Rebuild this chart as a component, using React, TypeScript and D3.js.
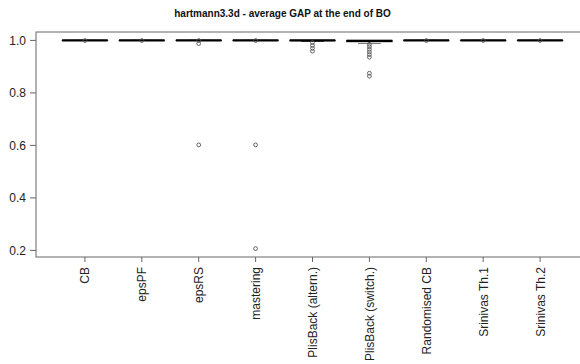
import React from 'react';
import * as d3 from 'd3';

const categories = ['CB', 'epsPF', 'epsRS', 'mastering', 'PlisBack (altern.)', 'PlisBack (switch.)', 'Randomised CB', 'Srinivas Th.1', 'Srinivas Th.2'];
const q1 = [1, 1, 1, 1, 0.999, 0.995, 1, 1, 1];
const medians = [1, 1, 1, 1, 1, 0.998, 1, 1, 1];
const q3 = [1, 1, 1, 1, 1, 1, 1, 1, 1];
const whiskLow = [1, 1, 1, 1, 0.997, 0.988, 1, 1, 1];
const whiskHigh = [1, 1, 1, 1, 1, 1, 1, 1, 1];
const outliers = [
  [0.9995],
  [0.9995],
  [0.9995, 0.988, 0.602],
  [0.9995, 0.602, 0.207],
  [0.992, 0.981, 0.970, 0.959],
  [0.985, 0.976, 0.966, 0.956, 0.946, 0.936, 0.875, 0.864],
  [0.9995],
  [0.9995],
  [0.9995],
];
const yTicks = [0.2, 0.4, 0.6, 0.8, 1.0];
const title = 'hartmann3.3d - average GAP at the end of BO';

const W = 580;
const H = 364;
const left = 36, right = 589, top = 32, bottom = 257;

export default function App() {
  const x = d3.scaleLinear().domain([0.14, categories.length + 0.86]).range([left, right]);
  const y = d3.scaleLinear().domain([0.175, 1.032]).range([bottom, top]);
  const half = (x(1) - x(0)) * 0.4;
  const font = 'Liberation Sans, Arial, sans-serif';
  const axisCol = '#666';

  return (
    <svg width={W} height={H} style={{ position: 'absolute', left: 0, top: 0 }}>
      <rect width={W} height={H} fill="#fff" />
      <text x={282.5} y={17} textAnchor="middle" fontFamily={font} fontWeight="bold" fontSize={10} fill="#111">{title}</text>
      {categories.map((c, i) => {
        const cx = x(i + 1);
        return (
          <g key={c}>
            <line x1={cx} x2={cx} y1={y(whiskLow[i])} y2={y(q1[i])} stroke="#000" strokeDasharray="3,2" />
            <line x1={cx} x2={cx} y1={y(whiskHigh[i])} y2={y(q3[i])} stroke="#000" strokeDasharray="3,2" />
            <line x1={cx - half / 2} x2={cx + half / 2} y1={y(whiskLow[i])} y2={y(whiskLow[i])} stroke={i === 5 ? '#777' : '#000'} />
            <rect x={cx - half} width={half * 2} y={y(q3[i])} height={Math.max(0.01, y(q1[i]) - y(q3[i]))} fill="#fff" stroke="#222" />
            <line x1={cx - half} x2={cx + half} y1={y(medians[i])} y2={y(medians[i])} stroke="#000" strokeWidth={2.2} />
            {outliers[i].map((v, j) => (
              <circle key={j} cx={cx} cy={y(v)} r={1.9} fill="none" stroke="#555" strokeWidth={0.9} />
            ))}
          </g>
        );
      })}
      <rect x={left} y={top} width={right - left} height={bottom - top} fill="none" stroke={axisCol} />
      {yTicks.map(t => (
        <g key={t}>
          <line x1={left - 6} x2={left} y1={y(t)} y2={y(t)} stroke={axisCol} />
          <text x={26} y={y(t)} dy="0.35em" textAnchor="end" fontFamily={font} fontSize={12} fill="#222">{t.toFixed(1)}</text>
        </g>
      ))}
      {categories.map((c, i) => (
        <g key={c}>
          <line x1={x(i + 1)} x2={x(i + 1)} y1={bottom} y2={bottom + 5} stroke={axisCol} />
          <text transform={`translate(${x(i + 1) + 4.5},${bottom + 10}) rotate(-90)`} textAnchor="end" fontFamily={font} fontSize={12} fill="#222">{c}</text>
        </g>
      ))}
    </svg>
  );
}
